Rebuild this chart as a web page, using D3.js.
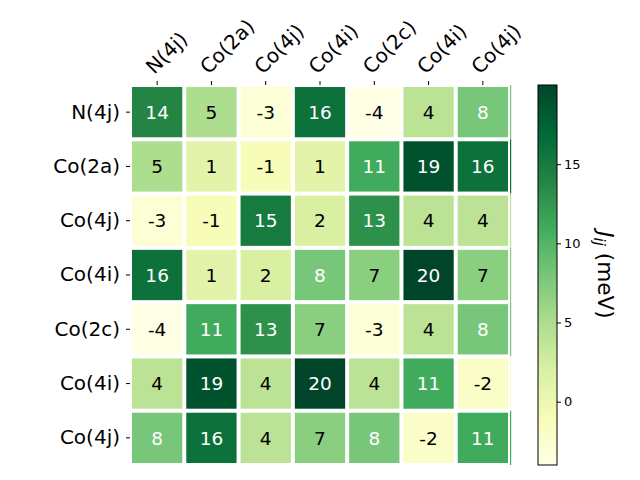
<!DOCTYPE html>
<html>
<head>
<meta charset="utf-8">
<script src="https://cdn.jsdelivr.net/npm/d3@7"></script>
<style>
  body { margin: 0; background: #fff; }
  text { font-family: "DejaVu Sans", sans-serif; }
</style>
</head>
<body>
<svg id="chart" width="640" height="480"></svg>
<script>
const sites = ['N(4j)', 'Co(2a)', 'Co(4j)', 'Co(4i)', 'Co(2c)', 'Co(4i)', 'Co(4j)'];

const rowN4j  = [14, 5, -3, 16, -4, 4, 8];
const rowCo2a = [5, 1, -1, 1, 11, 19, 16];
const rowCo4j = [-3, -1, 15, 2, 13, 4, 4];
const rowCo4i = [16, 1, 2, 8, 7, 20, 7];
const rowCo2c = [-4, 11, 13, 7, -3, 4, 8];
const rowCo4i2 = [4, 19, 4, 20, 4, 11, -2];
const rowCo4j2 = [8, 16, 4, 7, 8, -2, 11];

const rows = [rowN4j, rowCo2a, rowCo4j, rowCo4i, rowCo2c, rowCo4i2, rowCo4j2];
const cbarTicks = [0, 5, 10, 15];

let margin = { top: 85, left: 130 };
let width = 380, height = 380;

let svg = d3.select('#chart');
let chart = svg.append('g')
  .attr('transform', `translate(${margin.left}, ${margin.top})`);

let idx = d3.range(sites.length);
let x = d3.scaleBand().domain(idx).range([0, width]);
let y = d3.scaleBand().domain(idx).range([0, height]);

let cells = [];
rows.forEach((r, i) => r.forEach((v, j) => cells.push({ i, j, v })));

let ext = d3.extent(cells, (d) => d.v);
// matplotlib YlGn, linear between the brewer stops
let stops = d3.schemeYlGn[9];
let color = d3.scaleLinear()
  .domain(stops.map((s, k) => ext[0] + (ext[1] - ext[0]) * k / (stops.length - 1)))
  .range(stops)
  .interpolate(d3.interpolateRgb);

let gap = 2;

chart.append('g')
  .selectAll('rect')
  .data(cells)
  .enter().append('rect')
    .attr('x', (d) => x(d.j) + gap)
    .attr('y', (d) => y(d.i) + gap)
    .attr('width', x.bandwidth() - gap * 2)
    .attr('height', y.bandwidth() - gap * 2)
    .attr('fill', (d) => color(d.v));

// thin sliver of the last column at the right edge
chart.append('g')
  .selectAll('rect')
  .data(cells.filter((d) => d.j === sites.length - 1))
  .enter().append('rect')
    .attr('x', width)
    .attr('y', (d) => y(d.i))
    .attr('width', 1.2)
    .attr('height', y.bandwidth())
    .attr('fill', (d) => color(d.v));

let mid = (ext[0] + ext[1]) / 2;
chart.append('g')
  .selectAll('text')
  .data(cells)
  .enter().append('text')
    .attr('x', (d) => x(d.j) + x.bandwidth() / 2)
    .attr('y', (d) => y(d.i) + y.bandwidth() / 2)
    .attr('dy', '0.36em')
    .attr('text-anchor', 'middle')
    .attr('font-size', 18.5)
    .attr('fill', (d) => d.v >= mid ? '#fff' : '#000')
    .text((d) => d.v);

// X axis on top
let xAxis = chart.append('g')
  .call(d3.axisTop(x).tickSizeInner(4).tickSizeOuter(0).tickFormat((d) => sites[d]));
xAxis.select('.domain').remove();
xAxis.selectAll('text')
  .attr('font-size', 20)
  .attr('text-anchor', 'start')
  .attr('dy', null)
  .attr('y', 0)
  .attr('transform', 'translate(-3, -10) rotate(-45)');

// Y axis
let yAxis = chart.append('g')
  .call(d3.axisLeft(y).tickSizeInner(4).tickSizeOuter(0).tickFormat((d) => sites[d]));
yAxis.select('.domain').remove();
yAxis.selectAll('text')
  .attr('font-size', 20)
  .attr('x', -10);

// Colorbar
let cbX = 538, cbW = 19;
let cbScale = d3.scaleLinear().domain(ext).range([margin.top + height, margin.top]);

let defs = svg.append('defs');
let grad = defs.append('linearGradient')
  .attr('id', 'cbgrad')
  .attr('x1', 0).attr('y1', 1).attr('x2', 0).attr('y2', 0);
stops.forEach((s, k) => {
  grad.append('stop')
    .attr('offset', k / (stops.length - 1))
    .attr('stop-color', s);
});

svg.append('rect')
  .attr('x', cbX)
  .attr('y', margin.top)
  .attr('width', cbW)
  .attr('height', height)
  .attr('fill', 'url(#cbgrad)')
  .attr('stroke', '#000')
  .attr('stroke-width', 1);

let cbAxis = svg.append('g')
  .attr('transform', `translate(${cbX + cbW}, 0)`)
  .call(d3.axisRight(cbScale).tickValues(cbarTicks).tickSizeInner(4).tickSizeOuter(0));
cbAxis.select('.domain').remove();
cbAxis.selectAll('text')
  .attr('font-size', 13);

let cbLabel = svg.append('text')
  .attr('transform', `translate(598, ${margin.top + height / 2}) rotate(90)`)
  .attr('text-anchor', 'middle')
  .attr('font-size', 21.6);
cbLabel.append('tspan').attr('font-style', 'italic').text('J');
cbLabel.append('tspan').attr('font-style', 'italic').attr('font-size', 15).attr('dy', 4).text('ij');
cbLabel.append('tspan').attr('dy', -4).text(' (meV)');
</script>
</body>
</html>
